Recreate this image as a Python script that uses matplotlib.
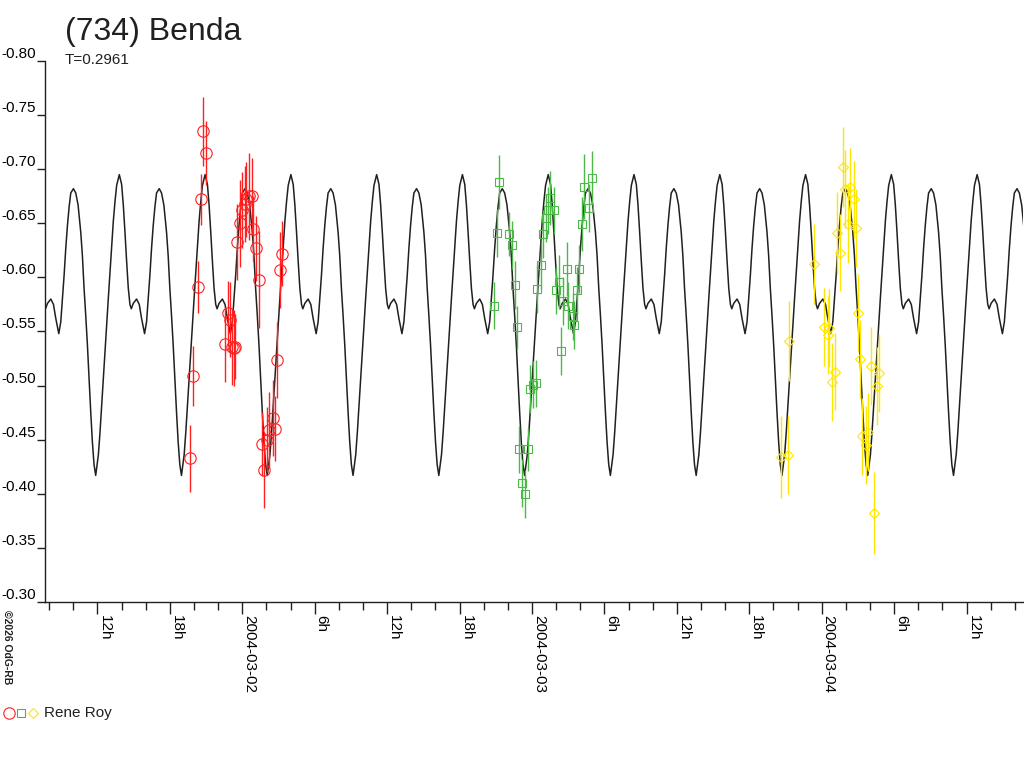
import numpy as np
import matplotlib
matplotlib.use('Agg')
import matplotlib.pyplot as plt
from matplotlib.lines import Line2D
from datetime import datetime, timedelta

plt.rcParams['font.family'] = ['Liberation Sans', 'DejaVu Sans']
plt.rcParams['axes.unicode_minus'] = False

# time axis: hours since 2004-03-01 00:00
period_h = 0.2961 * 24
first_min_h = 11.86

# one period of the model curve, starting at the deep minimum
shape_phase = np.array([0, 2.67, 4.33, 6, 7.67, 9.33, 11, 12.67, 14.33, 16, 17.67, 19.33, 21,
                        23.67, 26, 27.67, 29.33, 31, 32.67, 34.33, 35.67, 37.67, 41, 43.67,
                        46, 49, 51, 52.67, 54.33, 56, 57.67, 59.33, 61, 63.67, 66, 68.33, 71,
                        72.67, 74.33, 76, 77.67, 79.33, 81, 82.67, 84.33]) / 86.0
shape_mag = np.array([-0.417, -0.436, -0.457, -0.482, -0.507, -0.531, -0.556, -0.581, -0.605,
                      -0.630, -0.652, -0.670, -0.685, -0.695, -0.686, -0.667, -0.642, -0.615,
                      -0.590, -0.575, -0.571, -0.576, -0.580, -0.575, -0.562, -0.548, -0.559,
                      -0.580, -0.602, -0.627, -0.648, -0.665, -0.678, -0.682, -0.678, -0.667,
                      -0.642, -0.620, -0.590, -0.565, -0.538, -0.507, -0.476, -0.448, -0.427])

red_t = [19.69, 19.89, 20.36, 20.55, 20.77, 20.97, 22.54, 22.82, 22.96, 23.15, 23.31, 23.42,
         23.56, 23.83, 23.98, 24.20, 24.35, 24.56, 24.80, 24.91, 25.16, 25.41, 25.61, 25.80,
         26.07, 26.24, 26.57, 26.71, 26.90, 27.12, 27.31]
red_mag = [-0.433, -0.509, -0.591, -0.672, -0.735, -0.715, -0.538, -0.567, -0.561, -0.536,
           -0.535, -0.536, -0.633, -0.650, -0.662, -0.668, -0.672, -0.675, -0.675, -0.645,
           -0.627, -0.598, -0.446, -0.422, -0.450, -0.459, -0.470, -0.460, -0.524, -0.607,
           -0.622]
red_err = [0.031, 0.028, 0.024, 0.024, 0.032, 0.030, 0.035, 0.030, 0.035, 0.035, 0.035, 0.030,
           0.035, 0.040, 0.035, 0.035, 0.035, 0.040, 0.035, 0.030, 0.030, 0.045, 0.030, 0.035,
           0.030, 0.035, 0.035, 0.030, 0.035, 0.035, 0.030]

green_t = [44.83, 45.07, 45.27, 46.09, 46.32, 46.57, 46.73, 46.95, 47.20, 47.42, 47.64, 47.83,
           48.06, 48.36, 48.45, 48.74, 48.89, 49.16, 49.33, 49.49, 49.82, 49.96, 50.26, 50.38,
           50.59, 50.87, 51.00, 51.37, 51.48, 51.70, 51.89, 52.12, 52.31, 52.75, 52.97]
green_mag = [-0.574, -0.641, -0.688, -0.640, -0.630, -0.593, -0.554, -0.441, -0.410, -0.400,
             -0.441, -0.497, -0.501, -0.502, -0.589, -0.611, -0.640, -0.655, -0.662, -0.673,
             -0.662, -0.588, -0.596, -0.532, -0.578, -0.608, -0.574, -0.564, -0.556, -0.588,
             -0.608, -0.649, -0.684, -0.664, -0.692]
green_err = [0.022, 0.022, 0.025, 0.020, 0.022, 0.022, 0.020, 0.022, 0.022, 0.022, 0.020, 0.022,
             0.022, 0.022, 0.022, 0.022, 0.022, 0.022, 0.022, 0.025, 0.022, 0.022, 0.025, 0.022,
             0.022, 0.025, 0.022, 0.022, 0.022, 0.022, 0.022, 0.025, 0.030, 0.022, 0.025]

yellow_t = [68.63, 69.18, 69.29, 71.36, 72.16, 72.50, 72.63, 72.88, 73.10, 73.29, 73.54, 73.74,
            73.93, 74.15, 74.34, 74.67, 74.81, 75.03, 75.20, 75.36, 75.64, 75.86, 76.08, 76.33,
            76.56, 76.74]
yellow_mag = [-0.434, -0.436, -0.541, -0.612, -0.554, -0.547, -0.553, -0.503, -0.513, -0.641,
              -0.623, -0.702, -0.682, -0.649, -0.684, -0.672, -0.646, -0.567, -0.525, -0.453,
              -0.445, -0.457, -0.518, -0.382, -0.500, -0.512]
yellow_err = [0.038, 0.036, 0.037, 0.037, 0.036, 0.036, 0.036, 0.036, 0.036, 0.038, 0.036, 0.037,
              0.036, 0.036, 0.036, 0.036, 0.036, 0.036, 0.036, 0.036, 0.036, 0.036, 0.036, 0.038,
              0.036, 0.036]

y_ticks = [-0.80, -0.75, -0.70, -0.65, -0.60, -0.55, -0.50, -0.45, -0.40, -0.35, -0.30]

fig = plt.figure(figsize=(10.24, 7.68), dpi=100)
ax = fig.add_axes([45 / 1024, 1 - 602 / 768, 978 / 1024, 541 / 768])

# model lightcurve, repeated every period
curve_t = np.concatenate([first_min_h + (k + shape_phase) * period_h for k in range(-1, 12)])
curve_y = np.tile(shape_mag, 13)
ax.plot(curve_t, curve_y, color='#202020', lw=1.1, zorder=2)

ax.errorbar(red_t, red_mag, yerr=red_err, fmt='o', ms=8.2, mfc='none', mec='#ff2020',
            mew=0.8, ecolor='#ff2020', elinewidth=1.0, capsize=0, zorder=3)
ax.errorbar(green_t, green_mag, yerr=green_err, fmt='s', ms=5.8, mfc='none', mec='#4cb848',
            mew=0.8, ecolor='#4cb848', elinewidth=1.0, capsize=0, zorder=3)
ax.errorbar(yellow_t, yellow_mag, yerr=yellow_err, fmt='D', ms=5.4, mfc='none', mec='#ffe600',
            mew=0.8, ecolor='#ffe600', elinewidth=1.0, capsize=0, zorder=3)

ax.set_xlim(7.66, 88.68)
ax.set_ylim(-0.30, -0.80)

for s in ['top', 'right']:
    ax.spines[s].set_visible(False)
for s in ['left', 'bottom']:
    ax.spines[s].set_linewidth(1.0)
    ax.spines[s].set_color('#202020')
ax.spines['left'].set_bounds(-0.30, -0.80)


def hour_label(h):
    h = int(round(h))
    if h % 24 == 0:
        return (datetime(2004, 3, 1) + timedelta(hours=h)).strftime('%Y-%m-%d')
    return f'{h % 24}h'


major = [h for h in range(0, 96, 6) if 7.66 <= h <= 88.68]
minor = [h for h in range(0, 96, 2) if 7.66 <= h <= 88.68]
ax.set_xticks(major, labels=[hour_label(h) for h in major], rotation=-90, ha='left', va='top',
              fontsize=11)
ax.set_xticks(minor, minor=True)
ax.set_yticks(y_ticks, labels=[f'{v:.2f}' for v in y_ticks], va='bottom', fontsize=11)
ax.tick_params(axis='x', which='major', length=8.6, width=1.0, pad=0.5, color='#202020')
ax.tick_params(axis='x', which='minor', length=5.8, width=1.0, color='#202020')
ax.tick_params(axis='y', length=5.8, width=1.0, pad=0.5, color='#202020')

fig.text(65 / 1024, 1 - 40 / 768, '(734) Benda', fontsize=23, color='#202020', va='baseline')
fig.text(65 / 1024, 1 - 64 / 768, 'T=0.2961', fontsize=11, color='#202020', va='baseline')
fig.text(2 / 1024, 1 - 610 / 768, '\u00a92026 OdG-RB', fontsize=7.5, fontweight='bold',
         rotation=-90, ha='left', va='top', color='#202020')

# legend row
for lx, mk, ms, col in [(9, 'o', 8.2, '#ff2020'), (21, 's', 5.8, '#4cb848'), (33, 'D', 5.4, '#ffe600')]:
    fig.add_artist(Line2D([lx / 1024], [1 - 713 / 768], marker=mk, ms=ms, mfc='none', mec=col,
                          mew=0.8, transform=fig.transFigure))
fig.text(44 / 1024, 1 - 713 / 768, 'Rene Roy', fontsize=11, color='#202020', va='center')

fig.savefig('out.png', dpi=100)
